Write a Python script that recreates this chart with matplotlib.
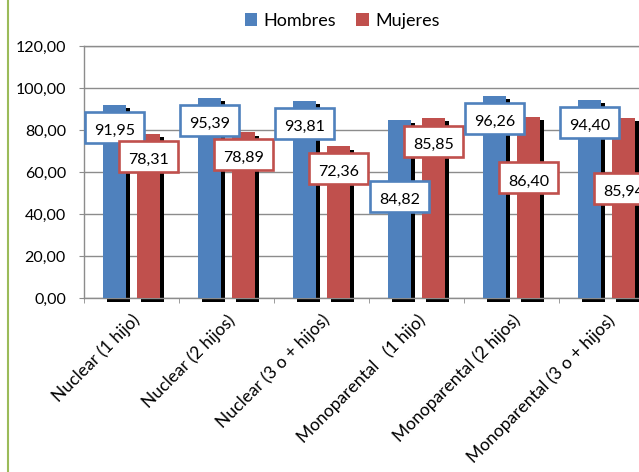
import numpy as np
import matplotlib
matplotlib.use("Agg")
import matplotlib.pyplot as plt
import matplotlib.transforms as mtransforms
from matplotlib.patches import Rectangle, Patch
from matplotlib.lines import Line2D

# ---- data -------------------------------------------------------------
categories = ["Nuclear (1 hijo)", "Nuclear (2 hijos)", "Nuclear (3 o + hijos)",
              "Monoparental   (1 hijo)", "Monoparental (2 hijos)",
              "Monoparental (3 o + hijos)"]
series_names = ["Hombres", "Mujeres"]
hombres = [91.95, 95.39, 93.81, 84.82, 96.26, 94.40]
mujeres = [78.31, 78.89, 72.36, 85.85, 86.40, 85.94]
y_ticks = [0, 20, 40, 60, 80, 100, 120]

# ---- label placement (pixels the box centre sits below the bar top) ----
drop_h = [22.5, 23.0, 22.5, 76.5, 23.0, 22.7]
drop_m = [22.5, 22.5, 22.5, 23.3, 61.4, 71.0]

plt.rcParams["font.family"] = ["Lato", "DejaVu Sans"]

DPI = 100
W, H = 639, 472
fig = plt.figure(figsize=(W / DPI, H / DPI), dpi=DPI)
fig.patch.set_facecolor("white")
ax = fig.add_axes([84 / W, 174 / H, 570 / W, 252 / H])

BLUE, RED = "#4F81BD", "#C0504D"
GRID = "#8C8C8C"
x = np.arange(len(categories))
bw = 0.24
shift = 0.18

shadow_tr = ax.transData + mtransforms.ScaledTranslation(4 / DPI, -3.5 / DPI,
                                                        fig.dpi_scale_trans)
for xs, vals, col in [(x - shift, hombres, BLUE), (x + shift, mujeres, RED)]:
    shadow = ax.bar(xs, vals, bw, color="black", zorder=2, linewidth=0)
    for p in shadow:
        p.set_transform(shadow_tr)
        p.set_clip_on(False)
    ax.bar(xs, vals, bw, color=col, zorder=3, linewidth=0)


def fmt(v):
    return f"{v:.2f}".replace(".", ",")


def boxed_label(xc, val, drop_px, color):
    tr = fig.dpi_scale_trans + mtransforms.ScaledTranslation(xc, val, ax.transData)
    w_in, h_in = 59 / DPI, 31 / DPI
    cy = -drop_px / DPI
    box = Rectangle((-w_in / 2, cy - h_in / 2), w_in, h_in, transform=tr,
                    facecolor="white", edgecolor=color, linewidth=1.9,
                    zorder=5, clip_on=False)
    ax.add_artist(box)
    ax.text(0, cy - 7.5 / DPI, fmt(val), transform=tr, ha="center",
            va="baseline", fontsize=11.5, color="black", zorder=6, clip_on=False)


for i in range(len(categories)):
    boxed_label(x[i] - shift, hombres[i], drop_h[i], BLUE)
    boxed_label(x[i] + shift, mujeres[i], drop_m[i], RED)

# ---- axes styling -----------------------------------------------------
ax.set_xlim(-0.5, len(categories) - 0.5)
ax.set_ylim(0, 120)
ax.set_yticks(y_ticks)
ax.set_yticklabels([fmt(v) for v in y_ticks])
ax.yaxis.grid(True, color=GRID, linewidth=1)
ax.set_axisbelow(True)

ax.set_xticks(x)
ax.set_xticklabels(categories, rotation=45, ha="right", va="center",
                   rotation_mode="anchor", fontsize=12.5)
ax.set_xticks(np.arange(-0.5, len(categories), 1), minor=True)
ax.tick_params(axis="x", which="major", length=0, pad=14)
ax.tick_params(axis="x", which="minor", length=3.6, color=GRID, direction="out")
ax.tick_params(axis="y", length=3.6, color=GRID, pad=9.4, labelsize=11.5)
for lab in ax.get_xticklabels():
    lab.set_transform(lab.get_transform() +
                      mtransforms.ScaledTranslation(6 / DPI, 0, fig.dpi_scale_trans))

for side in ("left", "bottom", "top"):
    ax.spines[side].set_color(GRID)
    ax.spines[side].set_linewidth(1)
ax.spines["right"].set_visible(False)

handles = [Patch(facecolor=BLUE, edgecolor="none"),
           Patch(facecolor=RED, edgecolor="none")]
fig.legend(handles, series_names, loc="center", bbox_to_anchor=(342 / W, 1 - 21 / H),
           ncol=2, frameon=False, fontsize=13, handlelength=0.7,
           handleheight=0.7, handletextpad=0.35, columnspacing=1.1,
           borderpad=0, borderaxespad=0)

# thin green rule along the left edge
fig.add_artist(Line2D([7.5 / W, 7.5 / W], [0, 1], transform=fig.transFigure,
                      color="#9BBB59", linewidth=1.5))

fig.savefig("out.png", dpi=DPI)
